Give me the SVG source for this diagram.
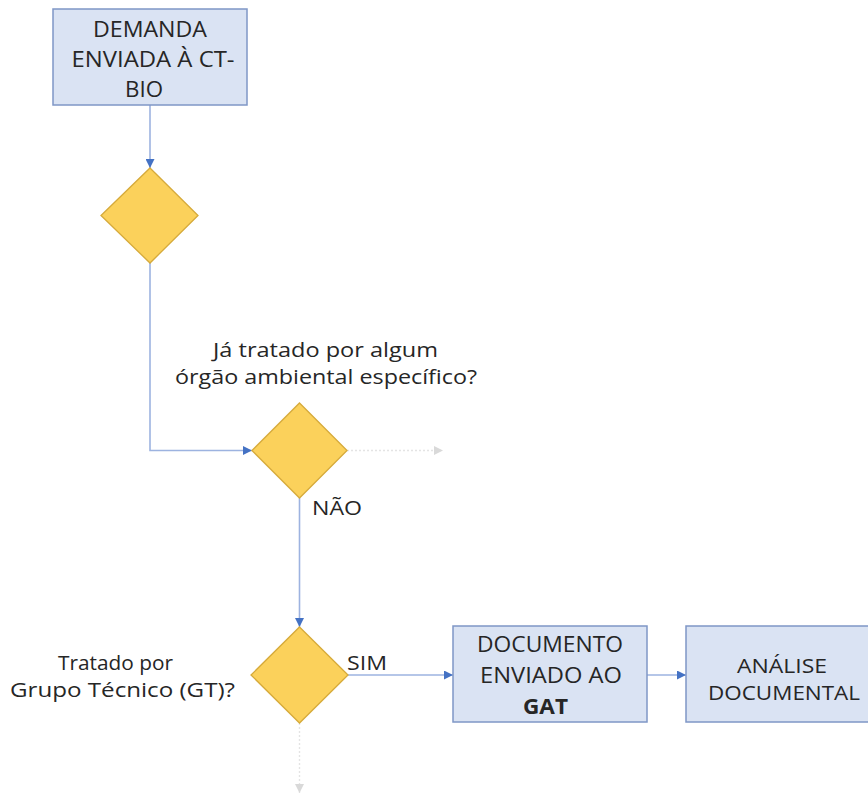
<svg xmlns="http://www.w3.org/2000/svg" width="868" height="799" viewBox="0 0 868 799">
<defs>
<marker id="ah" viewBox="0 0 10 10" refX="10" refY="5" markerWidth="9" markerHeight="9" markerUnits="userSpaceOnUse" orient="auto">
<path d="M0,0 L10,5 L0,10 z" fill="#4472c4"/>
</marker>
<marker id="ahf" viewBox="0 0 10 10" refX="10" refY="5" markerWidth="9" markerHeight="9" markerUnits="userSpaceOnUse" orient="auto">
<path d="M0,0 L10,5 L0,10 z" fill="#d9d9d9"/>
</marker>
<style>
.box{fill:#dae3f3;stroke:#7f97c6;stroke-width:1.5}
.dia{fill:#fbd15b;stroke:#d6aa3a;stroke-width:1.3}
.c{fill:none;stroke:#9db3e0;stroke-width:1.6;marker-end:url(#ah)}
.f{fill:none;stroke:#e4e4e4;stroke-width:1.4;stroke-dasharray:2 2;marker-end:url(#ahf)}
text{font-family:"Open Sans","Liberation Sans",sans-serif;font-size:19.5px;fill:#262626;text-anchor:middle}
.b{font-size:21px}
</style>
</defs>
<rect width="868" height="799" fill="#ffffff"/>
<g id="connectors">
<path class="c" d="M150,105 V168"/>
<path class="c" d="M150,263 V450.5 H252"/>
<path class="f" d="M347,450.5 H443"/>
<path class="c" d="M299.5,498 V627"/>
<path class="c" d="M348,675 H453"/>
<path class="f" d="M299.5,723 V793"/>
<path class="c" d="M647,675 H686"/>
</g>
<g id="n1">
<rect class="box" x="53" y="9" width="194" height="96"/>
<text class="b" x="150" y="37" textLength="114" lengthAdjust="spacingAndGlyphs">DEMANDA</text>
<text class="b" x="153" y="67" textLength="163" lengthAdjust="spacingAndGlyphs">ENVIADA À CT-</text>
<text class="b" x="144" y="97" textLength="38" lengthAdjust="spacingAndGlyphs">BIO</text>
</g>
<g id="d1">
<polygon class="dia" points="150,168 198,215.5 150,263 101,215.5"/>
</g>
<g id="d2">
<polygon class="dia" points="299.5,403 347,450.5 299.5,498 252,450.5"/>
<text x="325.5" y="357" textLength="225" lengthAdjust="spacingAndGlyphs">Já tratado por algum</text>
<text x="326" y="384" textLength="302" lengthAdjust="spacingAndGlyphs">órgão ambiental específico?</text>
<text x="337" y="515" textLength="50" lengthAdjust="spacingAndGlyphs">NÃO</text>
</g>
<g id="d3">
<polygon class="dia" points="299.5,627 348,675 299.5,723 251,675"/>
<text x="115.5" y="670" textLength="115" lengthAdjust="spacingAndGlyphs">Tratado por</text>
<text x="122.5" y="697" textLength="225" lengthAdjust="spacingAndGlyphs">Grupo Técnico (GT)?</text>
<text x="367" y="670" textLength="40" lengthAdjust="spacingAndGlyphs">SIM</text>
</g>
<g id="n2">
<rect class="box" x="453" y="626" width="194" height="96"/>
<text class="b" x="550" y="652" textLength="146" lengthAdjust="spacingAndGlyphs">DOCUMENTO</text>
<text class="b" x="551" y="683" textLength="142" lengthAdjust="spacingAndGlyphs">ENVIADO AO</text>
<text class="b" x="545.5" y="714" font-weight="bold" textLength="45" lengthAdjust="spacingAndGlyphs">GAT</text>
</g>
<g id="n3">
<rect class="box" x="686" y="626" width="194" height="96"/>
<text x="782" y="673" textLength="90" lengthAdjust="spacingAndGlyphs">ANÁLISE</text>
<text x="784" y="700" textLength="152" lengthAdjust="spacingAndGlyphs">DOCUMENTAL</text>
</g>
</svg>
